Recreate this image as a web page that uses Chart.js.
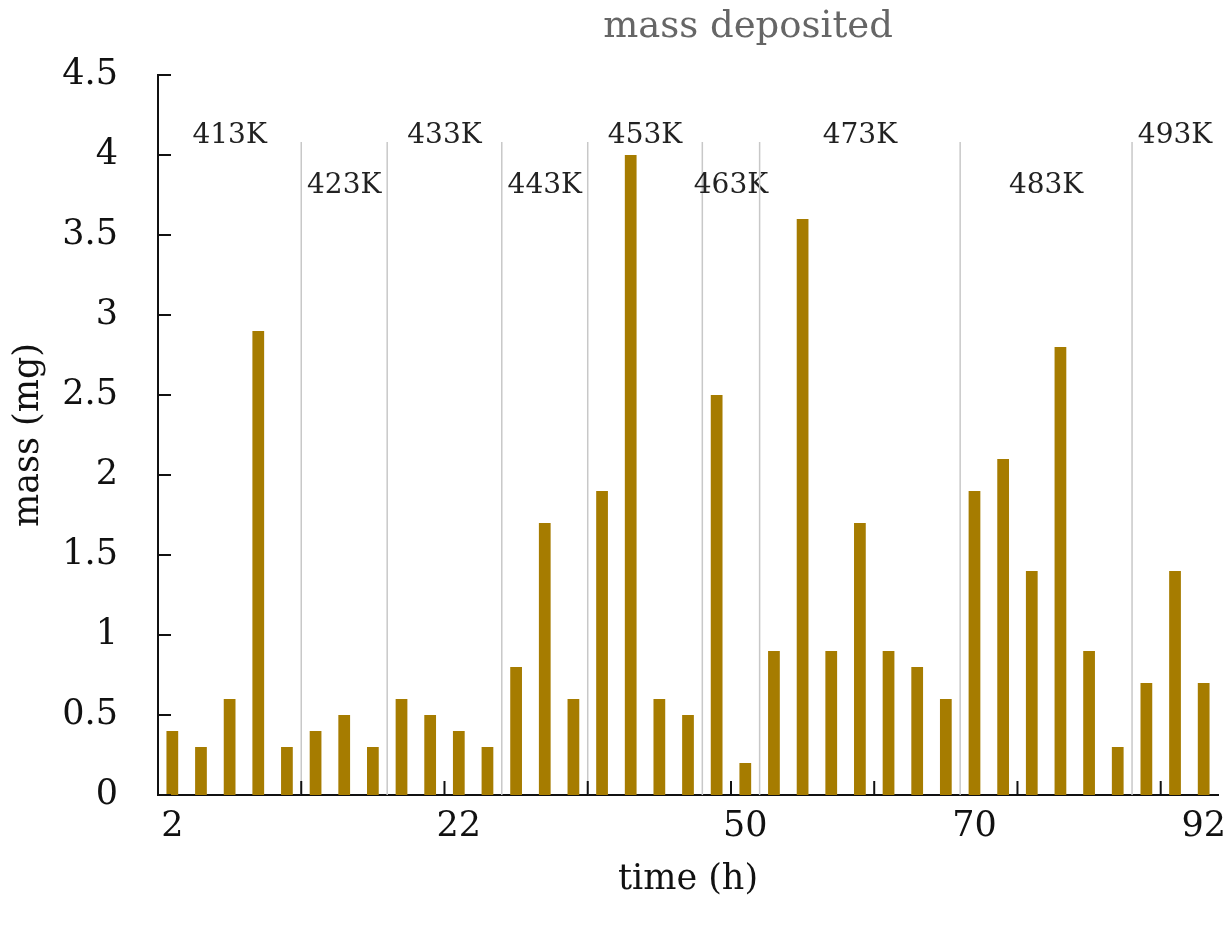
<!DOCTYPE html>
<html>
<head>
<meta charset="utf-8">
<script src="https://cdn.jsdelivr.net/npm/chart.js@4/dist/chart.umd.min.js"></script>
<style>
  body{ margin:0; background:#fff; }
  #wrap{ width:1230px; height:930px; position:relative; }
</style>
</head>
<body>
<div id="wrap"><canvas id="massChart"></canvas></div>
<script>

// time labels (only the ones printed on the axis)
const timeLabels = [
  '2','','','','',
  '','','',
  '','','22','',
  '','','',
  '','','','',
  '','50',
  '','','','','','','',
  '70','','','','','',
  '','','92'
];

// mass deposited per run (mg)
const massValues = [
  0.4, 0.3, 0.6, 2.9, 0.3,
  0.4, 0.5, 0.3,
  0.6, 0.5, 0.4, 0.3,
  0.8, 1.7, 0.6,
  1.9, 4.0, 0.6, 0.5,
  2.5, 0.2,
  0.9, 3.6, 0.9, 1.7, 0.9, 0.8, 0.6,
  1.9, 2.1, 1.4, 2.8, 0.9, 0.3,
  0.7, 1.4, 0.7
];

// temperature groups: label and number of runs
const tempLabels = ['413K','423K','433K','443K','453K','463K','473K','483K','493K'];
const tempCounts = [5, 3, 4, 3, 4, 2, 7, 6, 3];

const yTicks = [0, 0.5, 1, 1.5, 2, 2.5, 3, 3.5, 4, 4.5];

const FONT = "'DejaVu Serif', Georgia, serif";

/* extra drawing: title, inner ticks, temperature separators */

const decorations = {
  id:'decorations',
  afterDatasetsDraw(chart){
    const ctx = chart.ctx;
    const x = chart.scales.x;
    const y = chart.scales.y;
    const area = chart.chartArea;
    const step = x.getPixelForValue(1) - x.getPixelForValue(0);
    const edge = i => x.getPixelForValue(i) - step / 2;

    ctx.save();

    // temperature separators + labels
    let start = 0;
    tempCounts.forEach((n, g) => {
      if (g > 0){
        const px = edge(start);
        ctx.strokeStyle = '#c8c8c8';
        ctx.lineWidth = 1.5;
        ctx.beginPath();
        ctx.moveTo(px, y.getPixelForValue(4) - 13);
        ctx.lineTo(px, area.bottom);
        ctx.stroke();
      }
      const cx = edge(start) + step * n / 2;
      ctx.font = '28px ' + FONT;
      ctx.fillStyle = '#222';
      ctx.textAlign = 'center';
      ctx.textBaseline = 'alphabetic';
      ctx.fillText(tempLabels[g], cx, g % 2 === 0 ? 143 : 193);
      start += n;
    });

    // inner tick marks
    ctx.strokeStyle = '#111';
    ctx.lineWidth = 2;
    yTicks.forEach(v => {
      const py = y.getPixelForValue(v);
      ctx.beginPath();
      ctx.moveTo(area.left, py);
      ctx.lineTo(area.left + 13, py);
      ctx.stroke();
    });
    for (let i = 5; i < massValues.length; i += 5){
      const px = edge(i);
      ctx.beginPath();
      ctx.moveTo(px, area.bottom);
      ctx.lineTo(px, area.bottom - 14);
      ctx.stroke();
    }

    // chart title
    ctx.font = '37px ' + FONT;
    ctx.fillStyle = '#666';
    ctx.textAlign = 'center';
    ctx.fillText('mass deposited', 748, 37);

    ctx.restore();
  }
};

new Chart(document.getElementById('massChart'), {

  type:'bar',

  data:{
    labels: timeLabels,
    datasets:[{
      data: massValues,
      backgroundColor:'#a67c00',
      categoryPercentage: 1,
      barPercentage: 0.41
    }]
  },

  options:{
    responsive:true,
    maintainAspectRatio:false,
    animation:false,
    layout:{
      padding:{ top:75, right:12, left:0, bottom:0 }
    },
    plugins:{
      legend:{ display:false },
      tooltip:{ enabled:false },
      title:{ display:false }
    },
    scales:{
      x:{
        type:'category',
        offset:true,
        grid:{ display:false },
        border:{ display:true, color:'#111', width:2 },
        ticks:{
          autoSkip:false,
          maxRotation:0,
          padding:3,
          color:'#111',
          font:{ family:FONT, size:35 }
        },
        title:{
          display:true,
          text:'time (h)',
          color:'#111',
          font:{ family:FONT, size:35 },
          padding:{ top:0, bottom:29 }
        },
        afterFit(scale){ scale.height = 135; }
      },
      y:{
        min:0,
        max:4.5,
        grid:{ display:false, drawTicks:false },
        border:{ display:true, color:'#111', width:2 },
        ticks:{
          stepSize:0.5,
          padding:40,
          color:'#111',
          font:{ family:FONT, size:35 },
          callback: v => String(v)
        },
        title:{
          display:true,
          text:'mass (mg)',
          color:'#111',
          font:{ family:FONT, size:35 },
          padding:{ top:8, bottom:0 }
        },
        afterFit(scale){ scale.width = 158; }
      }
    }
  },

  plugins:[decorations]

});

</script>
</body>
</html>
